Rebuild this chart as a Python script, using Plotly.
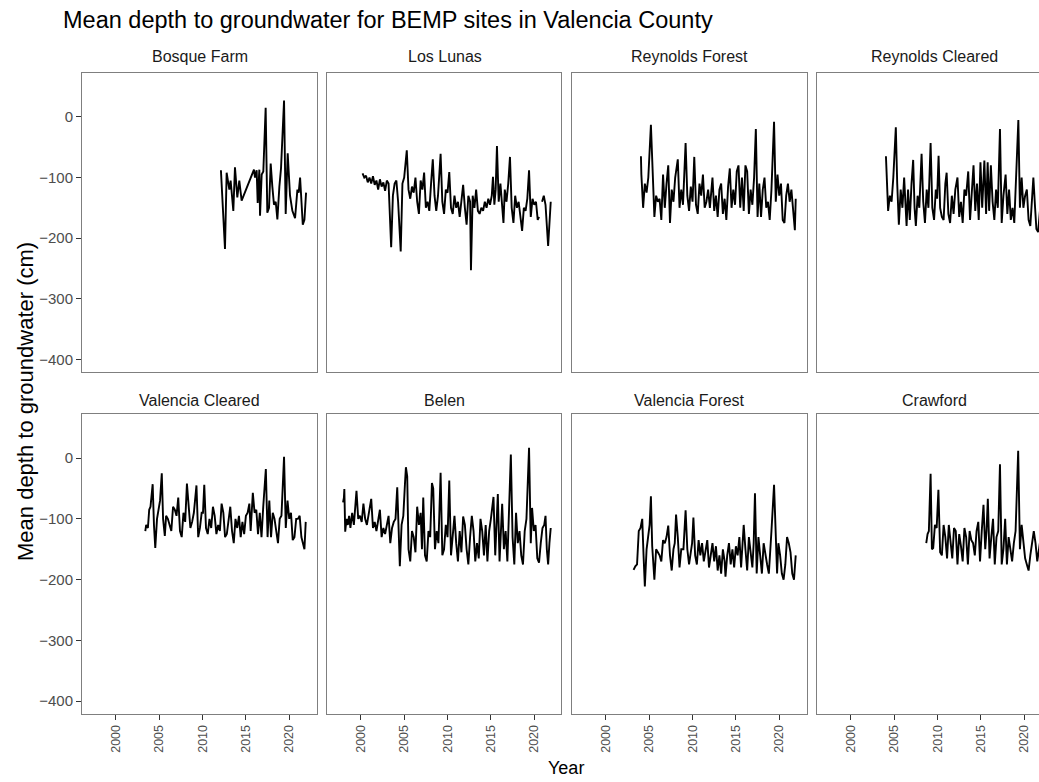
import plotly.graph_objects as go

# ---------------- data (decimal year, depth cm) ----------------
sites = ["Bosque Farm", "Los Lunas", "Reynolds Forest", "Reynolds Cleared",
         "Valencia Cleared", "Belen", "Valencia Forest", "Crawford"]

bosque_farm_year = [2012.12, 2012.59, 2012.78, 2013.09, 2013.24, 2013.55, 2013.74, 2014.01, 2014.24, 2014.51,
                    2015.93, 2016.05, 2016.24, 2016.36, 2016.55, 2016.63, 2016.82, 2017.01, 2017.28, 2017.47,
                    2017.67, 2017.86, 2018.05, 2018.24, 2018.44, 2018.63, 2018.86, 2019.05, 2019.40, 2019.59,
                    2019.82, 2020.09, 2020.36, 2020.67, 2020.94, 2021.09, 2021.25, 2021.44, 2021.56, 2021.75, 2021.94]
bosque_farm_depth = [-88, -218, -92, -120, -105, -155, -83, -133, -105, -138,
                     -87, -100, -88, -142, -87, -163, -95, -90, 15, -158,
                     -150, -77, -115, -145, -140, -169, -115, -85, 27, -160,
                     -60, -130, -155, -167, -120, -125, -100, -160, -178, -170, -125]

los_lunas_year = [2000.2, 2000.4, 2000.6, 2000.8, 2001.0, 2001.2, 2001.4, 2001.6, 2001.8, 2002.0,
                  2002.2, 2002.4, 2002.6, 2002.8, 2003.0, 2003.2, 2003.5, 2003.7, 2003.9, 2004.1,
                  2004.3, 2004.6, 2004.8, 2005.0, 2005.3, 2005.5, 2005.7, 2005.9, 2006.1, 2006.3,
                  2006.5, 2006.7, 2006.9, 2007.1, 2007.3, 2007.5, 2007.7, 2007.9, 2008.1, 2008.3,
                  2008.5, 2008.7, 2008.9, 2009.2, 2009.4, 2009.6, 2009.8, 2010.0, 2010.2, 2010.4,
                  2010.6, 2010.8, 2011.0, 2011.2, 2011.4, 2011.6, 2011.8, 2012.0, 2012.2, 2012.4,
                  2012.6, 2012.7, 2012.9, 2013.1, 2013.3, 2013.5, 2013.7, 2013.9, 2014.1, 2014.3,
                  2014.5, 2014.7, 2014.9, 2015.1, 2015.24, 2015.4, 2015.55, 2015.7, 2015.9, 2016.1,
                  2016.3, 2016.45, 2016.6, 2016.8, 2017.0, 2017.2, 2017.4, 2017.6, 2017.8, 2018.0,
                  2018.2, 2018.4, 2018.6, 2018.8, 2019.0, 2019.2, 2019.4, 2019.6, 2019.8, 2020.0,
                  2020.2, 2020.4, 2020.55, 2020.7, 2020.9, 2021.1, 2021.3, 2021.6, 2021.9]
los_lunas_depth = [-93, -100, -97, -108, -100, -110, -98, -112, -105, -120,
                   -103, -115, -108, -122, -105, -110, -215, -130, -110, -105,
                   -140, -222, -110, -100, -55, -120, -135, -115, -125, -100,
                   -140, -160, -105, -120, -92, -150, -140, -155, -110, -70,
                   -130, -155, -130, -61, -140, -160, -120, -125, -91, -150,
                   -160, -130, -150, -140, -165, -135, -112, -150, -178, -130,
                   -140, -253, -130, -150, -120, -155, -160, -150, -155, -140,
                   -150, -135, -145, -130, -99, -145, -120, -48, -140, -110,
                   -150, -175, -120, -140, -110, -66, -150, -175, -130, -150,
                   -140, -160, -188, -150, -155, -135, -88, -165, -135, -145,
                   -140, -170, -165, None, -140, -130, -145, -213, -140]

reynolds_forest_year = [2004.05, 2004.1, 2004.3, 2004.5, 2004.7, 2004.9, 2005.2, 2005.4, 2005.6, 2005.8,
                        2006.0, 2006.2, 2006.4, 2006.6, 2006.8, 2007.0, 2007.2, 2007.4, 2007.6, 2007.8,
                        2008.0, 2008.3, 2008.5, 2008.7, 2008.9, 2009.2, 2009.4, 2009.6, 2009.8, 2010.0,
                        2010.2, 2010.4, 2010.6, 2010.8, 2011.0, 2011.2, 2011.4, 2011.6, 2011.8, 2012.0,
                        2012.3, 2012.5, 2012.7, 2012.9, 2013.1, 2013.3, 2013.5, 2013.7, 2013.9, 2014.1,
                        2014.3, 2014.5, 2014.7, 2014.9, 2015.1, 2015.3, 2015.5, 2015.7, 2015.9, 2016.1,
                        2016.3, 2016.5, 2016.7, 2016.9, 2017.1, 2017.3, 2017.5, 2017.7, 2017.9, 2018.1,
                        2018.3, 2018.5, 2018.7, 2018.9, 2019.1, 2019.4, 2019.6, 2019.8, 2020.0, 2020.2,
                        2020.4, 2020.6, 2020.8, 2021.0, 2021.2, 2021.4, 2021.6, 2021.8, 2021.9]
reynolds_forest_depth = [-65, -95, -150, -110, -125, -100, -13, -100, -165, -130,
                         -140, -135, -170, -95, -150, -110, -80, -175, -120, -140,
                         -100, -70, -150, -120, -145, -43, -130, -155, -115, -140,
                         -66, -145, -160, -110, -130, -95, -150, -140, -120, -150,
                         -100, -155, -130, -165, -120, -110, -160, -135, -170, -115,
                         -85, -150, -120, -145, -90, -80, -150, -100, -155, -80,
                         -90, -160, -120, -145, -100, -20, -165, -110, -165, -120,
                         -100, -150, -140, -170, -120, -8, -140, -95, -130, -110,
                         -170, -175, -130, -110, -140, -120, -160, -187, -135]

reynolds_cleared_year = [2004.05, 2004.12, 2004.3, 2004.5, 2004.7, 2004.9, 2005.19, 2005.35, 2005.54, 2005.75,
                         2005.95, 2006.15, 2006.3, 2006.43, 2006.6, 2006.8, 2007.0, 2007.19, 2007.35, 2007.5,
                         2007.7, 2007.9, 2008.16, 2008.35, 2008.55, 2008.75, 2008.95, 2009.2, 2009.4, 2009.6,
                         2009.8, 2009.95, 2010.12, 2010.3, 2010.5, 2010.7, 2010.9, 2011.05, 2011.25, 2011.45,
                         2011.65, 2011.85, 2012.05, 2012.3, 2012.5, 2012.7, 2012.9, 2013.1, 2013.3, 2013.54,
                         2013.75, 2013.95, 2014.15, 2014.35, 2014.55, 2014.75, 2014.95, 2015.15, 2015.4, 2015.6,
                         2015.78, 2015.95, 2016.15, 2016.35, 2016.55, 2016.75, 2016.95, 2017.2, 2017.4, 2017.6,
                         2017.85, 2018.05, 2018.25, 2018.45, 2018.65, 2018.85, 2019.05, 2019.32, 2019.5, 2019.7,
                         2019.9, 2020.1, 2020.3, 2020.5, 2020.7, 2020.9, 2021.05, 2021.25, 2021.4, 2021.6,
                         2021.8, 2021.9]
reynolds_cleared_depth = [-65, -95, -155, -130, -140, -100, -17, -110, -178, -120,
                          -150, -100, -140, -180, -120, -170, -110, -71, -150, -180,
                          -130, -150, -61, -140, -175, -120, -150, -43, -150, -170,
                          -120, -135, -64, -150, -165, -170, -110, -92, -160, -175,
                          -130, -160, -120, -100, -165, -140, -175, -120, -130, -90,
                          -170, -130, -80, -155, -110, -170, -75, -150, -72, -160,
                          -75, -155, -80, -140, -170, -120, -150, -20, -175, -130,
                          -95, -160, -120, -170, -150, -175, -110, -5, -150, -100,
                          -150, -130, -120, -170, -180, -140, -100, -150, -185, -190,
                          -150, -140]

valencia_cleared_year = [2003.4, 2003.5, 2003.7, 2003.85, 2004.0, 2004.25, 2004.4, 2004.55, 2004.75, 2004.95,
                         2005.1, 2005.3, 2005.45, 2005.65, 2005.8, 2006.0, 2006.2, 2006.4, 2006.6, 2006.8,
                         2007.0, 2007.2, 2007.4, 2007.6, 2007.8, 2008.0, 2008.2, 2008.4, 2008.6, 2008.8,
                         2009.0, 2009.3, 2009.5, 2009.7, 2009.9, 2010.05, 2010.2, 2010.4, 2010.6, 2010.8,
                         2011.0, 2011.2, 2011.4, 2011.6, 2011.8, 2012.0, 2012.2, 2012.4, 2012.6, 2012.8,
                         2013.0, 2013.2, 2013.4, 2013.6, 2013.8, 2014.0, 2014.2, 2014.4, 2014.6, 2014.8,
                         2015.0, 2015.2, 2015.4, 2015.55, 2015.8, 2016.0, 2016.2, 2016.4, 2016.6, 2016.8,
                         2017.0, 2017.3, 2017.5, 2017.7, 2017.9, 2018.1, 2018.3, 2018.5, 2018.7, 2018.9,
                         2019.1, 2019.4, 2019.6, 2019.8, 2020.0, 2020.2, 2020.4, 2020.6, 2020.8, 2021.0,
                         2021.2, 2021.4, 2021.6, 2021.75, 2021.9]
valencia_cleared_depth = [-120, -110, -115, -85, -80, -43, -110, -148, -100, -80,
                          -70, -25, -100, -128, -95, -100, -110, -120, -80, -85,
                          -95, -65, -120, -130, -90, -105, -42, -80, -115, -105,
                          -90, -45, -130, -115, -90, -90, -44, -115, -125, -100,
                          -115, -80, -95, -125, -110, -120, -75, -90, -130, -125,
                          -100, -80, -120, -140, -100, -115, -95, -130, -105, -125,
                          -95, -90, -75, -120, -57, -90, -85, -125, -90, -130,
                          -80, -18, -130, -70, -130, -90, -100, -120, -140, -100,
                          -95, 2, -115, -70, -100, -90, -135, -130, -100, -100,
                          -95, -130, -140, -150, -105]

belen_year = [1997.95, 1998.05, 1998.1, 1998.2, 1998.35, 1998.5, 1998.65, 1998.8, 1999.0, 1999.2,
              1999.5, 1999.7, 1999.9, 2000.1, 2000.3, 2000.5, 2000.7, 2000.9, 2001.2, 2001.4,
              2001.6, 2001.8, 2002.0, 2002.2, 2002.4, 2002.6, 2002.8, 2003.0, 2003.2, 2003.4,
              2003.6, 2003.8, 2004.0, 2004.2, 2004.35, 2004.5, 2004.7, 2004.9, 2005.1, 2005.2,
              2005.35, 2005.5, 2005.7, 2005.9, 2006.1, 2006.3, 2006.5, 2006.7, 2006.9, 2007.05,
              2007.2, 2007.4, 2007.6, 2007.8, 2008.0, 2008.2, 2008.35, 2008.55, 2008.75, 2008.95,
              2009.2, 2009.4, 2009.6, 2009.8, 2010.0, 2010.2, 2010.4, 2010.6, 2010.8, 2011.0,
              2011.2, 2011.4, 2011.6, 2011.8, 2012.0, 2012.2, 2012.4, 2012.6, 2012.8, 2013.0,
              2013.2, 2013.4, 2013.6, 2013.8, 2014.0, 2014.2, 2014.4, 2014.6, 2014.8, 2015.0,
              2015.3, 2015.5, 2015.65, 2015.8, 2016.0, 2016.2, 2016.3, 2016.5, 2016.7, 2016.9,
              2017.05, 2017.3, 2017.5, 2017.7, 2017.9, 2018.1, 2018.3, 2018.5, 2018.7, 2018.9,
              2019.1, 2019.4, 2019.6, 2019.75, 2019.95, 2020.15, 2020.35, 2020.55, 2020.75, 2020.95,
              2021.15, 2021.3, 2021.45, 2021.6, 2021.75, 2021.9]
belen_depth = [-73, -65, -51, -121, -100, -110, -95, -115, -90, -110,
               -54, -100, -95, -105, -75, -100, -110, -95, -67, -115,
               -105, -120, -100, -85, -130, -115, -125, -110, -95, -140,
               -115, -105, -100, -48, -130, -178, -110, -95, -40, -15,
               -30, -150, -170, -120, -130, -155, -80, -110, -90, -150,
               -65, -160, -170, -120, -130, -41, -50, -150, -120, -140,
               -24, -160, -150, -110, -130, -37, -160, -130, -95, -140,
               -170, -120, -155, -96, -110, -150, -175, -130, -95, -120,
               -170, -140, -165, -100, -120, -160, -110, -170, -120, -100,
               -64, -160, -120, -59, -170, -100, -75, -150, -120, -170,
               -110, 6, -130, -175, -90, -140, -120, -160, -175, -120,
               -100, 17, -140, -82, -120, -110, -165, -172, -140, -115,
               -110, -95, -150, -175, -140, -115]

valencia_forest_year = [2003.2, 2003.4, 2003.6, 2003.8, 2004.0, 2004.2, 2004.35, 2004.5, 2004.7, 2004.9,
                        2005.05, 2005.2, 2005.35, 2005.6, 2005.8, 2006.0, 2006.2, 2006.4, 2006.6, 2006.8,
                        2007.0, 2007.2, 2007.4, 2007.6, 2007.8, 2007.95, 2008.1, 2008.3, 2008.5, 2008.7,
                        2008.95, 2009.2, 2009.4, 2009.6, 2009.8, 2009.95, 2010.1, 2010.3, 2010.5, 2010.7,
                        2010.9, 2011.1, 2011.3, 2011.5, 2011.7, 2011.9, 2012.1, 2012.3, 2012.5, 2012.7,
                        2012.9, 2013.1, 2013.3, 2013.5, 2013.7, 2013.8, 2014.0, 2014.2, 2014.4, 2014.6,
                        2014.8, 2015.0, 2015.2, 2015.4, 2015.6, 2015.9, 2016.1, 2016.3, 2016.5, 2016.7,
                        2016.9, 2017.05, 2017.2, 2017.4, 2017.6, 2017.8, 2018.0, 2018.2, 2018.4, 2018.6,
                        2018.8, 2019.0, 2019.1, 2019.4, 2019.6, 2019.75, 2019.9, 2020.1, 2020.3, 2020.5,
                        2020.7, 2020.9, 2021.1, 2021.3, 2021.5, 2021.7, 2021.9]
valencia_forest_depth = [-184, -178, -175, -120, -115, -100, -160, -211, -150, -130,
                         -110, -63, -145, -200, -150, -155, -160, -170, -135, -140,
                         -130, -111, -160, -185, -150, -140, -93, -130, -180, -150,
                         -150, -86, -150, -175, -150, -140, -98, -160, -175, -135,
                         -160, -140, -170, -150, -135, -180, -160, -140, -170, -145,
                         -185, -160, -190, -150, -170, -195, -160, -140, -175, -150,
                         -180, -145, -160, -130, -180, -110, -150, -185, -130, -160,
                         -180, -140, -58, -190, -130, -160, -190, -140, -160, -175,
                         -190, -150, -120, -44, -135, -190, -140, -160, -190, -200,
                         -175, -130, -140, -155, -190, -200, -160]

crawford_year = [2008.7, 2008.85, 2009.0, 2009.2, 2009.35, 2009.5, 2009.7, 2009.9, 2010.1, 2010.3,
                 2010.5, 2010.7, 2010.9, 2011.1, 2011.3, 2011.5, 2011.7, 2011.9, 2012.1, 2012.3,
                 2012.5, 2012.7, 2012.9, 2013.1, 2013.3, 2013.5, 2013.7, 2013.9, 2014.1, 2014.3,
                 2014.5, 2014.7, 2014.9, 2015.1, 2015.3, 2015.5, 2015.65, 2015.8, 2016.0, 2016.2,
                 2016.4, 2016.6, 2016.8, 2017.0, 2017.2, 2017.4, 2017.6, 2017.8, 2018.0, 2018.2,
                 2018.4, 2018.6, 2018.8, 2019.0, 2019.3, 2019.5, 2019.7, 2019.9, 2020.1, 2020.3,
                 2020.5, 2020.7, 2020.9, 2021.1, 2021.3, 2021.5, 2021.7, 2021.9]
crawford_depth = [-140, -125, -120, -26, -150, -148, -110, -115, -52, -155,
                  -160, -110, -130, -165, -110, -140, -165, -115, -120, -175,
                  -125, -145, -170, -115, -130, -175, -120, -135, -140, -160,
                  -120, -105, -170, -120, -77, -150, -120, -67, -165, -130,
                  -100, -175, -130, -120, -10, -175, -150, -100, -175, -130,
                  -155, -170, -140, -120, 12, -150, -110, -140, -165, -175,
                  -185, -160, -135, -120, -140, -170, -150, -130]

series = [
    (bosque_farm_year, bosque_farm_depth),
    (los_lunas_year, los_lunas_depth),
    (reynolds_forest_year, reynolds_forest_depth),
    (reynolds_cleared_year, reynolds_cleared_depth),
    (valencia_cleared_year, valencia_cleared_depth),
    (belen_year, belen_depth),
    (valencia_forest_year, valencia_forest_depth),
    (crawford_year, crawford_depth),
]

x_ticks = [2000, 2005, 2010, 2015, 2020]
y_ticks = [0, -100, -200, -300, -400]

# ---------------- layout geometry ----------------
W, H = 1039, 782
col_px = [(82, 317), (327, 561), (572, 807), (817, 1039)]
row_px = [(73, 372), (414, 714)]
x0, x1 = 1996.1, 2023.2
full_w = 235.0
y_range = [-421, 72.5]

FONT = "Liberation Sans, Arial, Helvetica, sans-serif"
BORDER = "#7f7f7f"
TICKC = "#333333"

fig = go.Figure()
layout = dict(
    width=W, height=H,
    margin=dict(l=0, r=0, t=0, b=0),
    paper_bgcolor="white", plot_bgcolor="white",
    showlegend=False,
    font=dict(family=FONT, color="#1a1a1a"),
    annotations=[],
)

for i, (site, (xs, ys)) in enumerate(zip(sites, series)):
    assert len(xs) == len(ys), site
    r, c = divmod(i, 4)
    n = i + 1
    xa = "xaxis" if n == 1 else f"xaxis{n}"
    ya = "yaxis" if n == 1 else f"yaxis{n}"
    xref = "x" if n == 1 else f"x{n}"
    yref = "y" if n == 1 else f"y{n}"
    cl, cr = col_px[c]
    rt, rb = row_px[r]
    xr_end = x0 + (x1 - x0) * (cr - cl) / full_w

    fig.add_trace(go.Scatter(
        x=xs, y=ys, mode="lines", xaxis=xref, yaxis=yref,
        line=dict(color="black", width=1.9), connectgaps=False,
        hoverinfo="skip",
    ))

    layout[xa] = dict(
        domain=[cl / W, cr / W], anchor=yref, range=[x0, xr_end],
        showgrid=False, zeroline=False,
        showline=True, linecolor=BORDER, linewidth=1, mirror=True,
        tickvals=x_ticks, ticks="outside" if r == 1 else "",
        ticklen=5, tickcolor=TICKC, tickwidth=1,
        showticklabels=(r == 1), tickangle=-90,
        tickfont=dict(size=12.5, color="#4d4d4d", family=FONT),
    )
    layout[ya] = dict(
        domain=[1 - rb / H, 1 - rt / H], anchor=xref, range=y_range,
        showgrid=False, zeroline=False,
        showline=True, linecolor=BORDER, linewidth=1, mirror=(c != 3),
        tickvals=y_ticks, ticks="outside" if c == 0 else "",
        ticklen=5, tickcolor=TICKC, tickwidth=1,
        showticklabels=(c == 0),
        tickfont=dict(size=15, color="#4d4d4d", family=FONT),
    )
    # strip label
    strip_y = 57 if r == 0 else 400
    layout["annotations"].append(dict(
        text=site, xref="paper", yref="paper",
        x=((cl + cl + full_w) / 2) / W, y=1 - strip_y / H,
        xanchor="center", yanchor="middle", showarrow=False,
        font=dict(size=16, color="#1a1a1a", family=FONT, weight="normal"),
    ))

layout["annotations"] += [
    dict(text="Mean depth to groundwater for BEMP sites in Valencia County",
         xref="paper", yref="paper", x=61 / W, y=1 - 20 / H,
         xanchor="left", yanchor="middle", showarrow=False,
         font=dict(size=23.5, color="black", family=FONT)),
    dict(text="Mean depth to groundwater (cm)", xref="paper", yref="paper",
         x=25 / W, y=1 - 402 / H, xanchor="center", yanchor="middle",
         textangle=-90, showarrow=False,
         font=dict(size=22, color="black", family=FONT)),
    dict(text="Year", xref="paper", yref="paper",
         x=566 / W, y=1 - 768 / H, xanchor="center", yanchor="middle",
         showarrow=False, font=dict(size=18, color="black", family=FONT)),
]

fig.update_layout(**layout)
fig.write_html("out.html")
